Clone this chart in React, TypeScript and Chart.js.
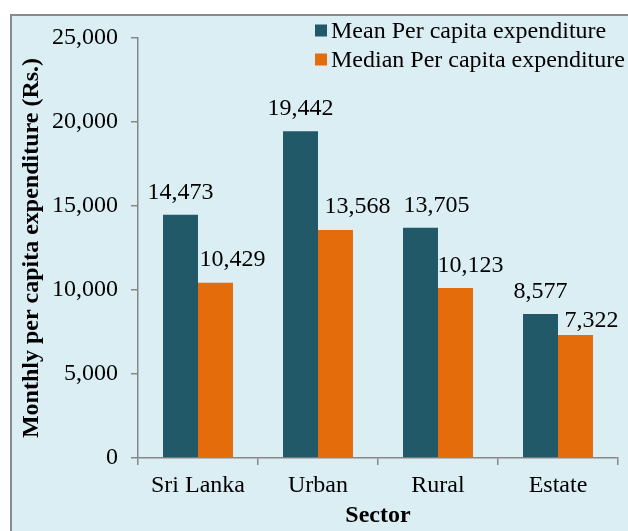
import React, { useEffect, useRef } from "react";
import { Chart, registerables } from "chart.js";

Chart.register(...registerables);

const categories = ["Sri Lanka", "Urban", "Rural", "Estate"];
const meanValues = [14473, 19442, 13705, 8577];
const medianValues = [10429, 13568, 10123, 7322];
const seriesNames = ["Mean Per capita expenditure", "Median Per capita expenditure"];
const yTickValues = [0, 5000, 10000, 15000, 20000, 25000];
const xTitle = "Sector";
const yTitle = "Monthly per capita expenditure (Rs.)";

const FONT = "'Liberation Serif', 'Times New Roman', Times, serif";
const FONT_SIZE = 24;
const seriesColors = ["#215968", "#E46C0A"];
const axisColor = "#878787";
// label placement tweaks [dx, gapAboveBar] per series / category (style only)
const labelPlacement = [
  [[0, 16], [0, 16], [16, 16], [0, 16]],
  [[17, 17], [22, 17], [15, 16], [16, 8]],
];

const fmt = (v: number) => v.toLocaleString("en-US");

const valueLabelPlugin = {
  id: "valueLabels",
  afterDatasetsDraw(chart: any) {
    const ctx = chart.ctx;
    ctx.save();
    ctx.font = `${FONT_SIZE}px ${FONT}`;
    ctx.fillStyle = "#000";
    ctx.textAlign = "center";
    ctx.textBaseline = "alphabetic";
    chart.data.datasets.forEach((ds: any, di: number) => {
      const meta = chart.getDatasetMeta(di);
      meta.data.forEach((el: any, i: number) => {
        const [dx, gap] = labelPlacement[di][i];
        ctx.fillText(fmt(ds.data[i]), el.x + dx, el.y - gap);
      });
    });
    ctx.restore();
  },
};

const legendPlugin = {
  id: "customLegend",
  afterDraw(chart: any) {
    const ctx = chart.ctx;
    ctx.save();
    ctx.font = `${FONT_SIZE}px ${FONT}`;
    ctx.textAlign = "left";
    ctx.textBaseline = "alphabetic";
    const baselines = [38, 67];
    chart.data.datasets.forEach((ds: any, di: number) => {
      const b = baselines[di];
      ctx.fillStyle = ds.backgroundColor;
      ctx.fillRect(315, b - 13.5, 12, 12);
      ctx.fillStyle = "#000";
      ctx.fillText(ds.label, 331, b);
    });
    ctx.restore();
  },
};

export default function App() {
  const canvasRef = useRef<HTMLCanvasElement | null>(null);

  useEffect(() => {
    if (!canvasRef.current) return;
    const chart = new Chart(canvasRef.current, {
      type: "bar",
      data: {
        labels: categories,
        datasets: [
          {
            label: seriesNames[0],
            data: meanValues,
            backgroundColor: seriesColors[0],
            barPercentage: 1,
            categoryPercentage: 0.583,
          },
          {
            label: seriesNames[1],
            data: medianValues,
            backgroundColor: seriesColors[1],
            barPercentage: 1,
            categoryPercentage: 0.583,
          },
        ],
      },
      options: {
        responsive: false,
        animation: false,
        devicePixelRatio: 1,
        layout: { padding: { left: 0, right: 10, top: 38, bottom: 0 } },
        plugins: {
          legend: { display: false },
          tooltip: { enabled: false },
          title: { display: false },
        },
        scales: {
          x: {
            grid: {
              offset: true,
              drawOnChartArea: false,
              drawTicks: true,
              tickLength: 7,
              color: axisColor,
              lineWidth: 1.5,
            },
            border: { display: true, color: axisColor, width: 1.5 },
            ticks: {
              font: { family: FONT, size: FONT_SIZE },
              color: "#000",
              padding: 6,
              maxRotation: 0,
            },
            title: {
              display: true,
              text: xTitle,
              font: { family: FONT, size: FONT_SIZE, weight: "bold" },
              color: "#000",
              padding: { top: 0, bottom: 1 },
            },
            afterFit(scale: any) {
              scale.height = 73;
            },
          },
          y: {
            min: 0,
            max: 25000,
            grid: {
              drawOnChartArea: false,
              drawTicks: true,
              tickLength: 7,
              color: axisColor,
              lineWidth: 1.5,
            },
            border: { display: true, color: axisColor, width: 1.5 },
            ticks: {
              font: { family: FONT, size: FONT_SIZE },
              color: "#000",
              padding: 13,
              callback: (v: any) => fmt(Number(v)),
            },
            afterBuildTicks(scale: any) {
              scale.ticks = yTickValues.map((v) => ({ value: v }));
            },
            title: {
              display: true,
              text: yTitle,
              font: { family: FONT, size: FONT_SIZE, weight: "bold" },
              color: "#000",
              padding: { top: 17, bottom: 0 },
            },
            afterFit(scale: any) {
              scale.width = 138;
            },
          },
        },
      },
      plugins: [valueLabelPlugin, legendPlugin],
    } as any);
    return () => chart.destroy();
  }, []);

  return (
    <div
      style={{
        position: "absolute",
        left: 0,
        top: 0,
        width: 628,
        height: 531,
        overflow: "hidden",
        background: "#ffffff",
      }}
    >
      <div
        style={{
          position: "absolute",
          left: 10,
          top: 14,
          width: 700,
          height: 600,
          border: "2px solid #8a8a8a",
          background: "#DBEEF4",
        }}
      />
      <canvas
        ref={canvasRef}
        width={628}
        height={531}
        style={{ position: "absolute", left: 0, top: 0, width: 628, height: 531 }}
      />
    </div>
  );
}
